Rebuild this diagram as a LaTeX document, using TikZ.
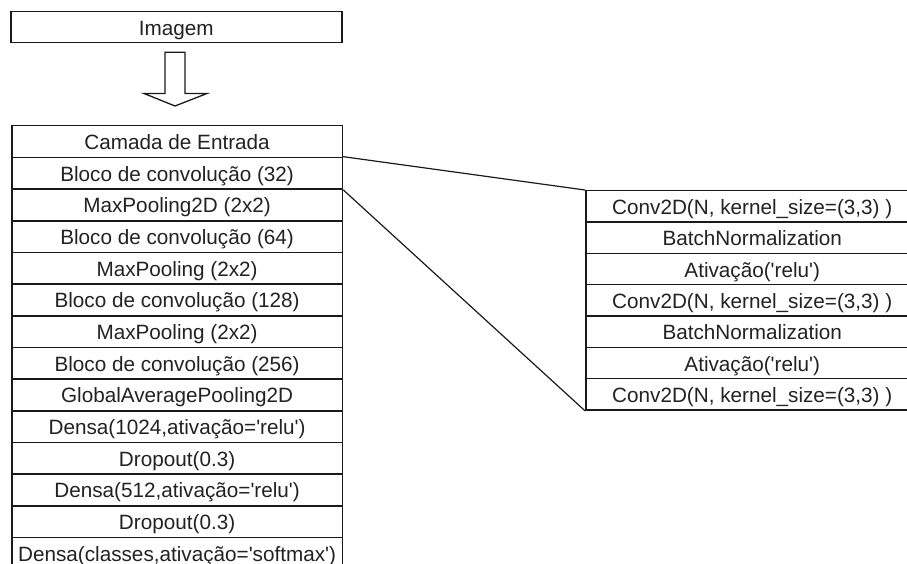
\documentclass[tikz,border=0pt]{standalone}
\usepackage{fontspec}
\usetikzlibrary{calc}
\setmainfont{Liberation Sans}
\newcommand\sq{\textquotesingle}
\definecolor{linec}{HTML}{1A1A1A}
\definecolor{textc}{HTML}{222222}
\tikzset{
  layer/.style={draw=linec, line width=1.5pt, fill=white, inner sep=0pt, anchor=north west,
    text height=16pt, text depth=0pt, text=textc,
    font=\fontsize{20.7}{24}\selectfont},
  leftrow/.style={layer, minimum width=330.7pt, minimum height=31.67pt},
  rightrow/.style={layer, minimum width=333pt, minimum height=31.33pt},
  link/.style={draw=linec, line width=1.2pt},
  blockarrow/.style={draw=linec, line width=1.3pt, fill=white, line join=miter}
}
\begin{document}
\begin{tikzpicture}[x=1pt, y=-1pt]
\useasboundingbox (0,0) rectangle (907,564);
\clip (0,0) rectangle (907,564);
% input
\node[layer, minimum width=331pt, minimum height=31pt] (img) at (10,11) {Imagem};
% block arrow
\coordinate (arr) at (175,52.3);
\draw[blockarrow] ($(arr)+(-10,0)$) -- ++(20,0) -- ++(0,41.2) -- ++(22,0) -- (175,106) -- (144,93.5) -- (165,93.5) -- cycle;
% left stack
\foreach \i/\t/\n in {
  0/{Camada de Entrada}/L0,
  1/{Bloco de convolução (32)}/L1,
  2/{MaxPooling2D (2x2)}/L2,
  3/{Bloco de convolução (64)}/L3,
  4/{MaxPooling (2x2)}/L4,
  5/{Bloco de convolução (128)}/L5,
  6/{MaxPooling (2x2)}/L6,
  7/{Bloco de convolução (256)}/L7,
  8/{GlobalAveragePooling2D}/L8,
  9/{Densa(1024,ativação=\sq relu\sq)}/L9,
  10/{Dropout(0.3)}/L10,
  11/{Densa(512,ativação=\sq relu\sq)}/L11,
  12/{Dropout(0.3)}/L12,
  13/{Densa(classes,ativação=\sq softmax\sq)}/L13}
{
  \node[leftrow] (\n) at (11,{125+31.67*\i}) {\t};
}
% right stack
\foreach \i/\t/\n in {
  0/{Conv2D(N, kernel\_size=(3,3) )}/R0,
  1/{BatchNormalization}/R1,
  2/{Ativação(\sq relu\sq)}/R2,
  3/{Conv2D(N, kernel\_size=(3,3) )}/R3,
  4/{BatchNormalization}/R4,
  5/{Ativação(\sq relu\sq)}/R5,
  6/{Conv2D(N, kernel\_size=(3,3) )}/R6}
{
  \node[rightrow] (\n) at (585,{190+31.33*\i}) {\t};
}
% zoom connectors
\draw[link] (L1.north east) -- (R0.north west);
\draw[link] (L1.south east) -- (R6.south west);
\end{tikzpicture}
\end{document}
